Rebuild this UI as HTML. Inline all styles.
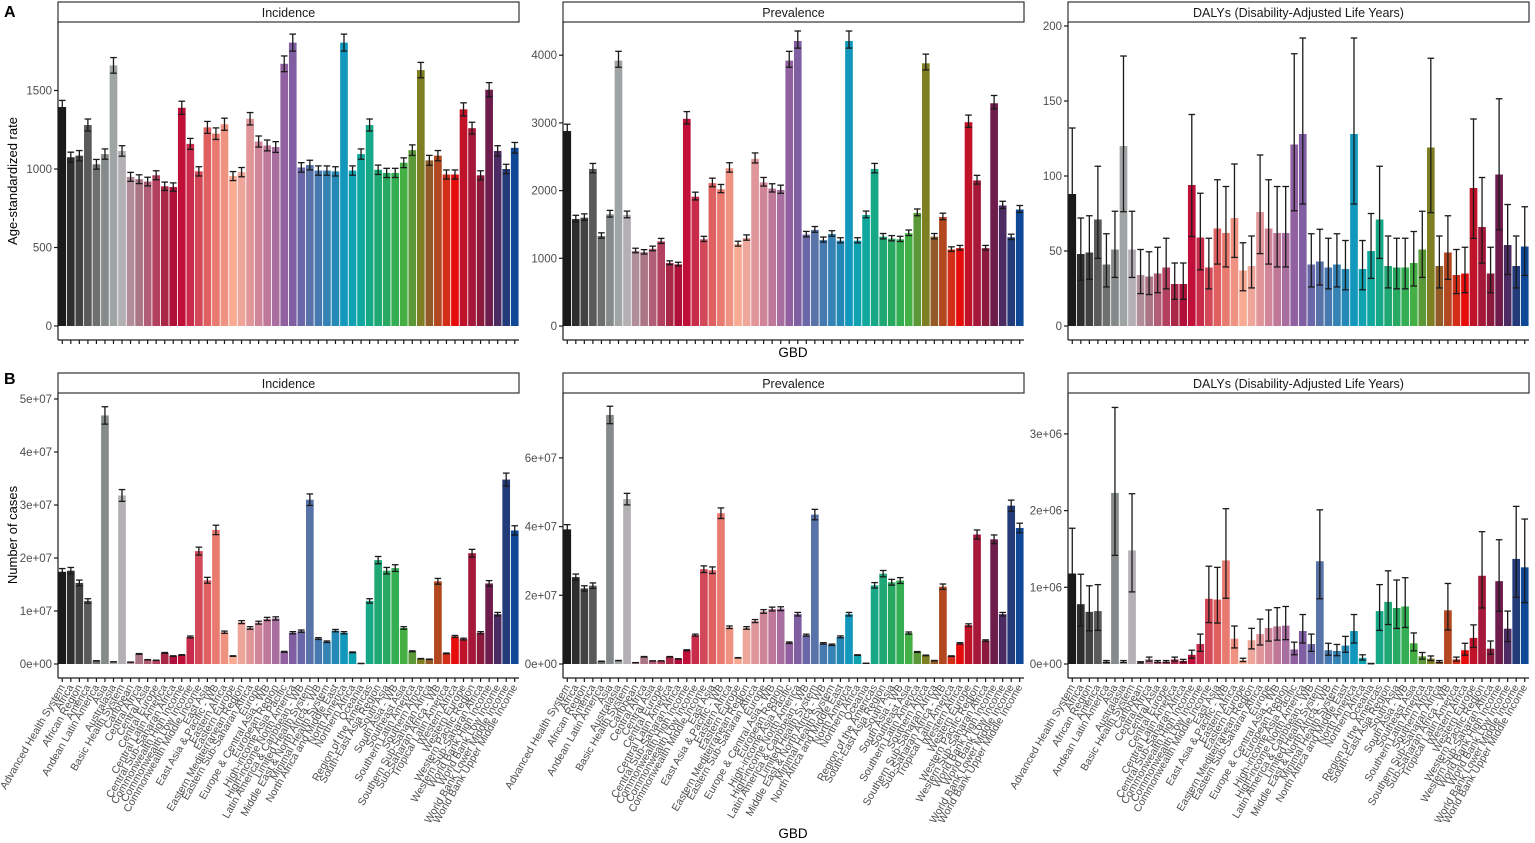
<!DOCTYPE html>
<html><head><meta charset="utf-8"><style>
html,body{margin:0;padding:0;background:#fff;}
svg{display:block;font-family:"Liberation Sans",Arial,sans-serif;}
</style></head><body>
<svg id="chart" width="1535" height="843" viewBox="0 0 1535 843" xmlns="http://www.w3.org/2000/svg"></svg>
<script>
const categories = ["Advanced Health System","Africa","African Region","America","Andean Latin America","Asia","Australasia","Basic Health System","Caribbean","Central Africa","Central Asia","Central Europe","Central Latin America","Central Sub-Saharan Africa","Commonwealth High Income","Commonwealth Low Income","Commonwealth Middle Income","East Asia","East Asia & Pacific - WB","Eastern Africa","Eastern Europe","Eastern Mediterranean Region","Eastern Sub-Saharan Africa","Europe","Europe & Central Asia - WB","European Region","High-income Asia Pacific","High-income North America","Latin America & Caribbean - WB","Limited Health System","Middle East & North Africa - WB","Minimal Health System","North Africa and Middle East","North America","Northern Africa","Oceania","Region of the Americas","South-East Asia Region","South Asia","South Asia - WB","Southeast Asia","Southern Latin America","Southern Africa","Southern Sub-Saharan Africa","Sub-Saharan Africa - WB","Tropical Latin America","Western Africa","Western Europe","Western Pacific Region","Western Sub-Saharan Africa","World Bank High Income","World Bank Low Income","World Bank Lower Middle Income","World Bank Upper Middle Income"];
const colors = ["#1a1a1a","#2e2e2e","#424242","#5a5a5a","#6e7070","#858a8a","#9fa4a4","#b3b0b3","#b08d98","#aa7686","#b25d76","#b2405e","#a92848","#b00f3a","#c0103a","#c92b4a","#d24858","#e06062","#e87a70","#f09282","#f8ab92","#eea59a","#e09599","#d08598","#c07898","#a86ea0","#9060a0","#7f5fa2","#6a68a8","#5873a8","#4679b0","#3583b4","#2589b8","#1298bd","#0fa2b0","#10a79f","#17a888","#20a874","#28a962","#33ae52","#44b044","#5b9838","#7e7e22","#915a27","#b34820","#d22e18","#e60c0c","#c01228","#a5183a","#8c1a3c","#6d1c4c","#4c2a62","#243b7a","#0e4896"];
const incRate = [1395,1075,1085,1280,1030,1095,1660,1115,950,935,920,960,890,885,1390,1160,985,1265,1225,1285,955,980,1320,1175,1150,1140,1670,1805,1010,1025,990,990,985,1805,990,1095,1280,995,975,975,1040,1120,1630,1055,1085,965,965,1380,1260,960,1505,1115,1000,1135];
const prevRate = [2880,1580,1600,2320,1330,1650,3920,1640,1110,1090,1140,1250,930,910,3060,1910,1280,2110,2020,2330,1210,1300,2470,2120,2030,2010,3920,4210,1350,1420,1270,1360,1260,4210,1260,1640,2320,1320,1290,1280,1370,1670,3880,1320,1610,1130,1150,3010,2150,1150,3290,1780,1310,1720];
const dalyRate = [88,48,49,71,41,51,120,51,34,33,35,39,28,28,94,59,39,65,62,72,37,40,76,65,62,62,121,128,41,43,39,41,38,128,38,50,71,40,39,39,42,51,119,40,49,34,35,92,66,35,101,54,40,53];
const incCases = [17.4,17.6,15.3,11.9,0.6,46.9,0.4,31.8,0.35,1.9,0.8,0.7,2.1,1.5,1.7,5.1,21.3,15.8,25.3,6.0,1.5,7.9,6.8,7.8,8.5,8.6,2.3,5.9,6.2,31.0,4.8,4.2,6.3,5.9,2.2,0.1,11.9,19.6,17.6,18.1,6.8,2.4,1.0,0.9,15.6,2.0,5.2,4.7,20.9,5.9,15.2,9.4,34.8,25.2];
const prevCases = [39.2,25.3,22.0,22.8,0.8,72.5,1.0,48.0,0.4,2.1,0.9,0.9,2.1,1.5,4.0,8.4,27.6,27.3,43.9,10.7,1.8,10.5,12.5,15.3,16.0,16.1,6.2,14.5,8.4,43.5,6.0,5.6,7.9,14.5,2.6,0.2,22.9,26.3,23.8,24.3,9.0,3.5,2.5,1.0,22.5,2.3,6.0,11.3,37.7,6.8,36.3,14.5,46.1,39.6];
const dalyCases = [1.18,0.78,0.68,0.69,0.03,2.23,0.03,1.48,0.02,0.06,0.03,0.03,0.06,0.04,0.12,0.26,0.85,0.84,1.35,0.33,0.05,0.31,0.39,0.47,0.49,0.50,0.19,0.43,0.26,1.34,0.18,0.17,0.24,0.43,0.08,0.005,0.69,0.81,0.73,0.75,0.27,0.10,0.07,0.03,0.70,0.06,0.18,0.34,1.15,0.20,1.08,0.46,1.37,1.26];
const ticksIncRate = [0,500,1000,1500];
const ticksPrevRate = [0,1000,2000,3000,4000];
const ticksDalyRate = [0,50,100,150,200];
const ticksIncCases = [0,10,20,30,40,50];
const tickLabelsIncCases = ["0e+00","1e+07","2e+07","3e+07","4e+07","5e+07"];
const ticksPrevCases = [0,20,40,60];
const tickLabelsPrevCases = ["0e+00","2e+07","4e+07","6e+07"];
const ticksDalyCases = [0,1,2,3];
const tickLabelsDalyCases = ["0e+00","1e+06","2e+06","3e+06"];

const NS="http://www.w3.org/2000/svg";
const svg=document.getElementById('chart');
function mk(tag,attrs,parent){const e=document.createElementNS(NS,tag);for(const k in attrs)e.setAttribute(k,attrs[k]);(parent||svg).appendChild(e);return e;}

const panels=[
 {title:"Incidence",x0:58,x1:519,top:22,strip:2,axisY:340,zeroY:326,ppu:157/1000,vals:incRate,ticks:ticksIncRate,labels:null,lo:0.97,hi:1.03,row:0},
 {title:"Prevalence",x0:563,x1:1024,top:22,strip:2,axisY:340,zeroY:326,ppu:67.7/1000,vals:prevRate,ticks:ticksPrevRate,labels:null,lo:0.975,hi:1.035,row:0},
 {title:"DALYs (Disability-Adjusted Life Years)",x0:1068,x1:1529,top:22,strip:2,axisY:340,zeroY:326,ppu:75/50,vals:dalyRate,ticks:ticksDalyRate,labels:null,lo:0.635,hi:1.5,row:0},
 {title:"Incidence",x0:58,x1:519,top:393,strip:373,axisY:678,zeroY:664,ppu:53/10,vals:incCases,ticks:ticksIncCases,labels:tickLabelsIncCases,lo:0.965,hi:1.035,row:1},
 {title:"Prevalence",x0:563,x1:1024,top:393,strip:373,axisY:678,zeroY:664,ppu:68.7/20,vals:prevCases,ticks:ticksPrevCases,labels:tickLabelsPrevCases,lo:0.965,hi:1.035,row:1},
 {title:"DALYs (Disability-Adjusted Life Years)",x0:1068,x1:1529,top:393,strip:373,axisY:678,zeroY:664,ppu:76.7/1,vals:dalyCases,ticks:ticksDalyCases,labels:tickLabelsDalyCases,lo:0.635,hi:1.5,row:1}
];

panels.forEach((p,pi)=>{
  const g=mk('g',{});
  
  
  const step=(p.x1-p.x0)/categories.length;
  const xc=i=>p.x0+(i+0.5)*step;
  const y=v=>p.zeroY-v*p.ppu;
  const st=mk('rect',{x:p.x0,y:p.strip,width:p.x1-p.x0,height:p.top-p.strip,fill:'#fff',stroke:'#333','stroke-width':1.2},g);
  
  
  const stt=mk('text',{x:(p.x0+p.x1)/2,y:p.strip+15,'text-anchor':'middle','font-size':12.5,fill:'#1a1a1a'},g);
  stt.textContent=p.title;
  
  
  p.vals.forEach((v,i)=>{
    const bw=step*0.9;
    const r=mk('rect',{x:xc(i)-bw/2,y:y(v),width:bw,height:Math.max(0.3,v*p.ppu),fill:colors[i]},g);
    
    
  });
  p.vals.forEach((v,i)=>{
    const eg=mk('g',{stroke:'#1a1a1a','stroke-width':1.3,fill:'none'},g);
    
    
    const yl=y(v*p.lo),yh=y(v*p.hi),c=xc(i),w=3.3;
    mk('line',{x1:c,x2:c,y1:yl,y2:yh},eg);
    mk('line',{x1:c-w,x2:c+w,y1:yl,y2:yl},eg);
    mk('line',{x1:c-w,x2:c+w,y1:yh,y2:yh},eg);
  });
  const ax=mk('g',{stroke:'#1a1a1a','stroke-width':1.2},g);
  
  
  mk('line',{x1:p.x0,x2:p.x0,y1:p.top,y2:p.axisY},ax);
  mk('line',{x1:p.x0,x2:p.x1,y1:p.axisY,y2:p.axisY},ax);
  categories.forEach((c,i)=>{mk('line',{x1:xc(i),x2:xc(i),y1:p.axisY,y2:p.axisY+4},ax);});
  p.ticks.forEach((t,k)=>{
    mk('line',{x1:p.x0-4,x2:p.x0,y1:y(t),y2:y(t)},ax);
    const tl=mk('text',{x:p.x0-6,y:y(t)+4,'text-anchor':'end','font-size':11.5,fill:'#4d4d4d',stroke:'none'},g);
    tl.textContent=p.labels?p.labels[k]:String(t);
    
    
  });
  if(p.row===1){
    categories.forEach((c,i)=>{
      const t=mk('text',{x:xc(i)+3,y:p.axisY+9,'text-anchor':'end','font-size':10.6,fill:'#4d4d4d',transform:`rotate(-60 ${xc(i)+3} ${p.axisY+9})`},g);
      t.textContent=c;
      
      
    });
  }
});

function txt(s,attrs,name){const t=mk('text',attrs);t.textContent=s;return t;}
txt('A',{x:4,y:17,'font-size':16,'font-weight':'bold',fill:'#000'},'panel-label-a');
txt('B',{x:4,y:384,'font-size':16,'font-weight':'bold',fill:'#000'},'panel-label-b');
txt('Age-standardized rate',{x:17,y:181,'text-anchor':'middle','font-size':13,fill:'#000',transform:'rotate(-90 17 181)'},'y-axis-title-rate');
txt('Number of cases',{x:17,y:535,'text-anchor':'middle','font-size':13,fill:'#000',transform:'rotate(-90 17 535)'},'y-axis-title-cases');
txt('GBD',{x:793,y:357,'text-anchor':'middle','font-size':13.5,fill:'#000'},'x-axis-title-top');
txt('GBD',{x:793,y:838,'text-anchor':'middle','font-size':13.5,fill:'#000'},'x-axis-title-bottom');
</script>
</body></html>
